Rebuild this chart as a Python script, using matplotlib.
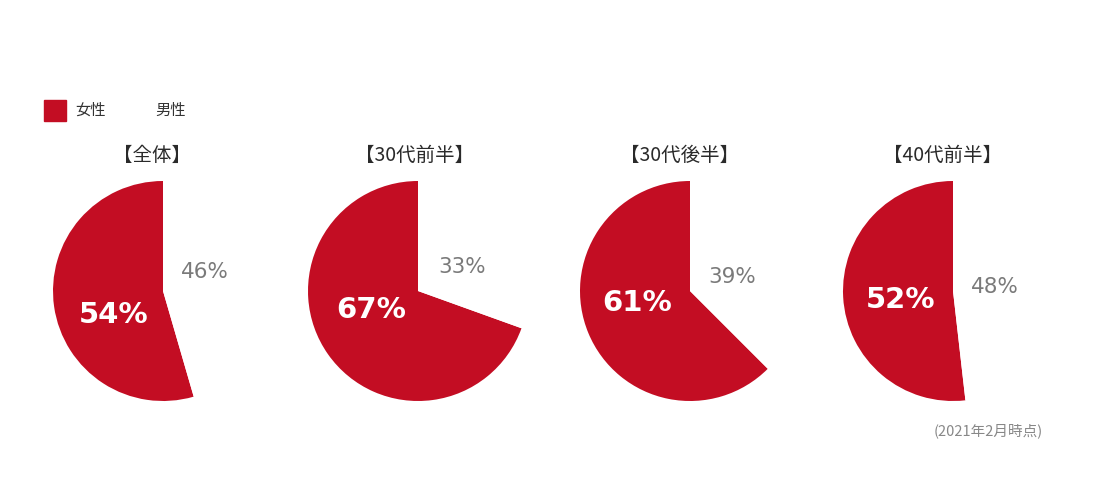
import matplotlib.pyplot as plt
from matplotlib.patches import Rectangle

plt.rcParams['font.family'] = ['Noto Sans CJK JP', 'DejaVu Sans']

# data
groups = ['【全体】', '【30代前半】', '【30代後半】', '【40代前半】']
female = [54, 67, 61, 52]
male = [46, 33, 39, 48]
# wedge shares as actually drawn in the picture (slightly off from the labels)
female_drawn = [54.5, 69.5, 62.5, 51.8]
legend_labels = ['女性', '男性']
note = '(2021年2月時点)'

RED = '#C30D23'
GRAY = '#7a7a7a'

W, H = 1102, 490
fig = plt.figure(figsize=(W / 100, H / 100), dpi=100)

centers_x = [163, 418, 690, 953]
title_x = [152, 415, 680, 943]
center_y = 291
radius = 110
# label offsets (in pie radius units): female, male
f_pos = [(-0.45, -0.22), (-0.43, -0.17), (-0.48, -0.11), (-0.48, -0.08)]
m_pos = [(0.38, 0.17), (0.40, 0.22), (0.38, 0.13), (0.38, 0.04)]

for i, cx in enumerate(centers_x):
    ax = fig.add_axes([(cx - radius) / W, 1 - (center_y + radius) / H,
                       2 * radius / W, 2 * radius / H])
    ax.pie([female_drawn[i], 100 - female_drawn[i]], colors=[RED, 'white'],
           startangle=90, counterclock=True, radius=1)
    ax.set_xlim(-1, 1)
    ax.set_ylim(-1, 1)
    ax.set_aspect('auto')
    ax.axis('off')
    ax.text(*f_pos[i], f'{female[i]}%', color='white', fontsize=21,
            fontweight='bold', family=['DejaVu Sans'], ha='center', va='center')
    ax.text(*m_pos[i], f'{male[i]}%', color=GRAY, fontsize=15.5,
            family=['DejaVu Sans'], ha='center', va='center')
    fig.text(title_x[i] / W, 1 - 155 / H, groups[i], fontsize=14, color='#2a2a2a',
             ha='center', va='center')

# legend
fig.patches.append(Rectangle((44 / W, 1 - 121 / H), 22 / W, 21 / H,
                             transform=fig.transFigure, color=RED))
fig.text(75 / W, 1 - 110 / H, legend_labels[0], fontsize=11, color='#333333', va='center')
fig.text(155 / W, 1 - 110 / H, legend_labels[1], fontsize=11, color='#333333', va='center')

fig.text(1043 / W, 1 - 431 / H, note, fontsize=10.5, color='#888888', ha='right', va='center')

fig.savefig('out.png', dpi=100, facecolor='white')
